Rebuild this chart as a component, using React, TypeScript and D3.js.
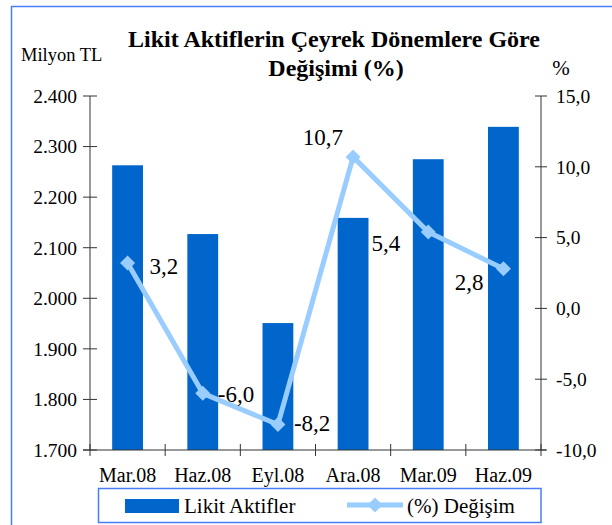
import React from "react";
import * as d3 from "d3";

const categories = ["Mar.08", "Haz.08", "Eyl.08", "Ara.08", "Mar.09", "Haz.09"];
const likitAktifler = [2263, 2127, 1951, 2159, 2275, 2339];
const degisim = [3.2, -6.0, -8.2, 10.7, 5.4, 2.8];
const leftTicks = [1700, 1800, 1900, 2000, 2100, 2200, 2300, 2400];
const rightTicks = [-10, -5, 0, 5, 10, 15];
// label placement (style): dx, dy, anchor
const labelPlacement: [number, number, string][] = [
  [22, 3, "start"],
  [15, 1, "start"],
  [16, -2, "start"],
  [-10, -20, "end"],
  [-28, 11, "end"],
  [-20, 13, "end"],
];

const W = 612;
const H = 525;
const left = 90;
const right = 541;
const top = 96;
const bottom = 450;

const locale = d3.formatLocale({
  decimal: ",",
  thousands: ".",
  grouping: [3],
  currency: ["", ""],
  minus: "-",
});
const fmtLeft = locale.format(",.0f");
const fmtRight = locale.format(".1f");

const TS: React.CSSProperties = { fontFamily: '"Liberation Serif", "Tinos", "Times New Roman", serif' };
const BAR = "#0066CC";
const LINE = "#99CCFF";
const FRAME = "#4A7CF7";
const AXIS = "#333";

export default function App() {
  const x = d3.scaleBand<string>().domain(categories).range([left, right]).padding(0);
  const yL = d3.scaleLinear().domain([1700, 2400]).range([bottom, top]);
  const yR = d3.scaleLinear().domain([-10, 15]).range([bottom, top]);
  const bw = x.bandwidth() * 0.41;
  const cx = (c: string) => (x(c) as number) + x.bandwidth() / 2;

  const line = d3
    .line<number>()
    .x((_, i) => cx(categories[i]))
    .y((d) => yR(d));

  const diamond = (px: number, py: number, r: number) =>
    `M${px},${py - r}L${px + r},${py}L${px},${py + r}L${px - r},${py}Z`;

  const bandEdges = [...categories.map((c) => x(c) as number), right];

  return (
    <svg width={W} height={H} style={{ position: "absolute", left: 0, top: 0, background: "#fff" }}>
      <rect x={0} y={0} width={W} height={H} fill="#fff" />
      {/* frame */}
      <path d={`M${W + 5},6.5H11.5V${H + 5}`} fill="none" stroke={FRAME} strokeWidth={1.5} />

      {/* title */}
      <text x={334} y={47} textAnchor="middle" fontSize={24} fontWeight="bold" fill="#000" style={TS}>
        Likit Aktiflerin Çeyrek Dönemlere Göre
      </text>
      <text x={336} y={76} textAnchor="middle" fontSize={24} fontWeight="bold" fill="#000" style={TS}>
        Değişimi (%)
      </text>
      <text x={21} y={61} fontSize={18.5} fill="#000" style={TS}>
        Milyon TL
      </text>
      <text x={561} y={75} textAnchor="middle" fontSize={21} fill="#000" style={TS}>
        %
      </text>

      {/* bars */}
      {categories.map((c, i) => (
        <rect
          key={c}
          x={cx(c) - bw / 2}
          y={yL(likitAktifler[i])}
          width={bw}
          height={yL(1700) - yL(likitAktifler[i])}
          fill={BAR}
        />
      ))}

      {/* axes */}
      <line x1={left} x2={left} y1={top} y2={bottom} stroke={AXIS} strokeWidth={1} />
      <line x1={right} x2={right} y1={top} y2={bottom} stroke={AXIS} strokeWidth={1} />
      <line x1={left - 7} x2={right + 5} y1={bottom} y2={bottom} stroke={AXIS} strokeWidth={1} />
      {leftTicks.map((t) => (
        <g key={t}>
          <line x1={left - 7} x2={left + 7} y1={yL(t)} y2={yL(t)} stroke={AXIS} />
          <text x={77} y={yL(t)} dy="0.35em" textAnchor="end" fontSize={19.5} fill="#000" style={TS}>
            {fmtLeft(t)}
          </text>
        </g>
      ))}
      {rightTicks.map((t) => (
        <g key={t}>
          <line x1={right - 6} x2={right + 6} y1={yR(t)} y2={yR(t)} stroke={AXIS} />
          <text x={556} y={yR(t)} dy="0.35em" textAnchor="start" fontSize={19.5} fill="#000" style={TS}>
            {fmtRight(t)}
          </text>
        </g>
      ))}
      {bandEdges.map((e, i) => (
        <line key={i} x1={e} x2={e} y1={bottom - 6} y2={bottom + 6} stroke={AXIS} />
      ))}
      {categories.map((c) => (
        <text key={c} x={cx(c)} y={482} textAnchor="middle" fontSize={20} fill="#000" style={TS}>
          {c}
        </text>
      ))}

      {/* line series */}
      <path d={line(degisim) || ""} fill="none" stroke={LINE} strokeWidth={5} strokeLinejoin="round" />
      {degisim.map((v, i) => (
        <path key={i} d={diamond(cx(categories[i]), yR(v), 7.5)} fill={LINE} />
      ))}
      {degisim.map((v, i) => {
        const [dx, dy, anchor] = labelPlacement[i];
        return (
          <text
            key={i}
            x={cx(categories[i]) + dx}
            y={yR(v) + dy}
            dy="0.35em"
            textAnchor={anchor}
            fontSize={23}
            fill="#000"
            style={TS}
          >
            {fmtRight(v)}
          </text>
        );
      })}

      {/* legend */}
      <rect x={98.5} y={488.5} width={442.5} height={34} fill="#fff" stroke={FRAME} strokeWidth={1.5} />
      <rect x={125} y={499} width={54} height={14} fill={BAR} />
      <text x={184} y={506} dy="0.35em" fontSize={21} fill="#000" style={TS}>
        Likit Aktifler
      </text>
      <line x1={347} x2={403} y1={505} y2={505} stroke={LINE} strokeWidth={5} />
      <path d={diamond(375, 505, 7.5)} fill={LINE} />
      <text x={407} y={506} dy="0.35em" fontSize={21} fill="#000" style={TS}>
        (%) Değişim
      </text>
    </svg>
  );
}
